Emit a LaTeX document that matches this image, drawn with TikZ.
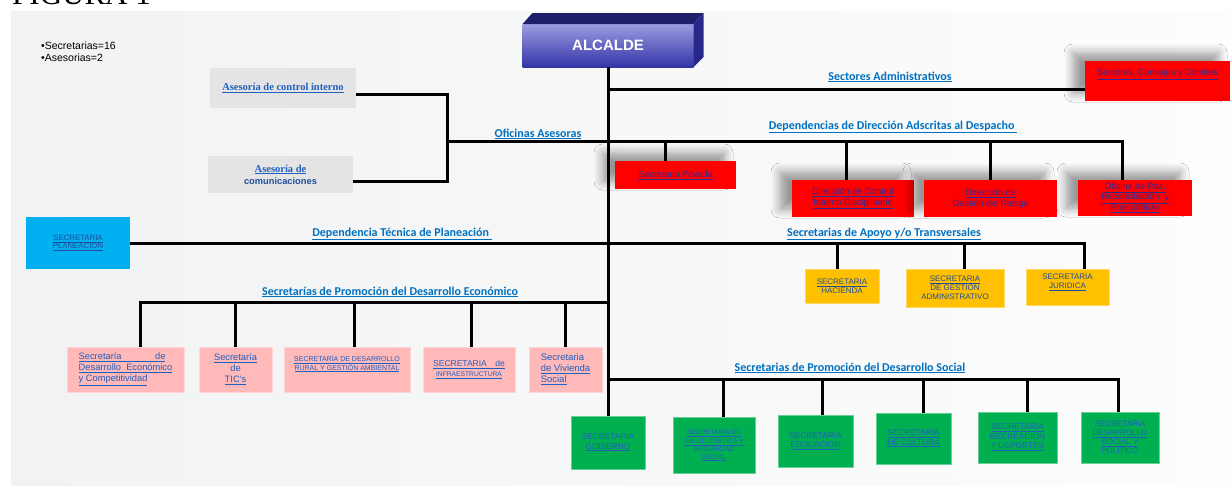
\documentclass[tikz,border=0pt]{standalone}
\usepackage{fontspec}
\setmainfont{Liberation Sans}
\newfontfamily\calfont{Carlito}
\newfontfamily\timesfont{Liberation Serif}
\usepackage{xcolor}
\usepackage{tikz}
\usetikzlibrary{shapes,arrows,positioning,calc,shadows.blur}

\definecolor{linkblue}{HTML}{1F5FC0}
\definecolor{lblblue}{HTML}{0070C0}
\definecolor{navytxt}{HTML}{2E2A8F}
\definecolor{deepblue}{HTML}{1F4E9A}
\definecolor{slideL}{HTML}{F1F2F3}
\definecolor{slideR}{HTML}{FDFDFD}
\definecolor{redfill}{HTML}{FF0000}
\definecolor{pinkfill}{HTML}{FFB9B9}
\definecolor{cyanfill}{HTML}{00B0F0}
\definecolor{yelfill}{HTML}{FFC000}
\definecolor{grnfill}{HTML}{00B050}
\definecolor{grayfill}{HTML}{E4E4E4}
\definecolor{alcA}{HTML}{9C9CE2}
\definecolor{alcB}{HTML}{3434A6}
\definecolor{alctop}{HTML}{1E1E6A}
\definecolor{alcside}{HTML}{28288A}

\newcommand{\lnk}[1]{\underline{#1}}

\tikzset{
  orgbox/.style={inner sep=1pt, outer sep=0pt, align=center, text=linkblue,
    font=\fontsize{8.5}{10}\selectfont},
  redbox/.style={orgbox, fill=redfill, text=navytxt, font=\fontsize{9}{10.5}\selectfont,
    blur shadow={shadow xshift=-12pt, shadow yshift=8pt, shadow opacity=40, shadow blur radius=9pt, shadow blur steps=10}},
  pinkbox/.style={orgbox, fill=pinkfill, draw=pinkfill!60!white, minimum height=45pt},
  greenbox/.style={orgbox, fill=grnfill, draw=grnfill!60!white, font=\fontsize{8.3}{9.5}\selectfont},
  yelbox/.style={orgbox, fill=yelfill, draw=yelfill!60!white, text=deepblue, font=\fontsize{8}{9}\selectfont},
  graybox/.style={orgbox, fill=grayfill},
  alcbox/.style={inner sep=0pt, outer sep=0pt, top color=alcA, bottom color=alcB,
    text=white, font=\bfseries\fontsize{15}{17}\selectfont},
  barlabel/.style={inner sep=1pt, text=lblblue, font=\calfont\bfseries\fontsize{12}{14}\selectfont},
  conn/.style={line width=3pt},
}

\begin{document}
\begin{tikzpicture}[x=1pt,y=-1pt]
\useasboundingbox (0,0) rectangle (1230,485);
\fill[white] (0,0) rectangle (1230,485);
\fill[left color=slideL, right color=slideR] (11,11) rectangle (1230,485);

\node[anchor=base west, inner sep=0pt, font=\timesfont\fontsize{31}{31}\selectfont] (figura) at (12,4.5) {FIGURA 1};
\node[anchor=north west, inner sep=0pt, align=left, font=\fontsize{10.5}{12}\selectfont] (nota) at (41,42) {•Secretarias=16\\•Asesorias=2};

\node[alcbox, minimum width=171pt, minimum height=43pt] (alcalde) at (608,45.5) {ALCALDE};
\fill[alctop] (alcalde.north west) -- ++(10,-11) -- ++(171,0) -- (alcalde.north east) -- cycle;
\fill[alcside] (alcalde.north east) -- ++(10,-11) -- ++(0,44) -- (alcalde.south east) -- cycle;

\node[redbox, minimum width=145pt, minimum height=40pt] (sectores) at (1157.5,81) {\lnk{Sectores, Consejos y Comités}\\[7pt]~};
\node[redbox, minimum width=121pt, minimum height=28pt] (privada) at (675.5,175) {\lnk{Secretaria Privada}};
\node[redbox, minimum width=122pt, minimum height=37pt] (ctrlint) at (853,198.5) {\lnk{Dirección de Control}\\\lnk{Interno Disciplinario}};
\node[redbox, minimum width=133pt, minimum height=37pt] (riesgo) at (990.5,198.5) {\lnk{Dirección de}\\Gestión del Riesgo};
\node[redbox, minimum width=114pt, minimum height=36pt, font=\fontsize{9}{10}\selectfont] (paz) at (1135,198) {\lnk{Oficina de Paz,}\\\lnk{Reconciliación\ \ y}\\\lnk{Posconflicto}};

\node[graybox, minimum width=146pt, minimum height=40pt, font=\timesfont\bfseries\fontsize{10.5}{12}\selectfont] (asesctrl) at (283,88) {\lnk{Asesoría de control interno}};
\node[graybox, minimum width=145pt, minimum height=37pt, font=\timesfont\bfseries\fontsize{10.5}{12}\selectfont] (asescom) at (280.5,174.5) {\lnk{Asesoría de}\\{\normalfont\bfseries\fontsize{9.3}{10}\selectfont\color{deepblue}comunicaciones}};

\node[orgbox, fill=cyanfill, minimum width=104pt, minimum height=52pt, text=deepblue, font=\fontsize{7.8}{8.5}\selectfont] (planeacion) at (78,243) {\lnk{SECRETARIA}\\\lnk{PLANEACION}};

\node[yelbox, minimum width=74pt, minimum height=34pt] (hacienda) at (842,286) {\lnk{SECRETARIA}\\HACIENDA};
\node[yelbox, minimum width=98pt, minimum height=38pt] (gestion) at (955,288) {\lnk{SECRETARIA}\\DE GESTION\\ADMINISTRATIVO};
\node[yelbox, minimum width=83pt, minimum height=36pt] (juridica) at (1067.5,287) {SECRETARIA\\\lnk{JURIDICA}\\[3pt]~};

\node[pinkbox, minimum width=117pt, align=left, font=\fontsize{9.3}{11}\selectfont] (desarrollo) at (125.5,369.5) {\lnk{Secretaría\hspace{3.6em}de}\\\lnk{Desarrollo\ \ Económico}\\\lnk{y Competitividad}};
\node[pinkbox, minimum width=73pt, font=\fontsize{9.3}{11}\selectfont] (tics) at (235.5,369.5) {\lnk{Secretaría}\\de\\\lnk{TIC's}};
\node[pinkbox, minimum width=126pt, font=\fontsize{7}{8.5}\selectfont] (rural) at (347,369.5) {\lnk{SECRETARÍA DE DESARROLLO}\\\lnk{RURAL Y GESTIÓN AMBIENTAL}\\[5pt]~};
\node[pinkbox, minimum width=92pt, font=\fontsize{8.5}{10}\selectfont] (infra) at (469,369.5) {\lnk{SECRETARIA\quad de}\\{\fontsize{6.7}{8}\selectfont\lnk{INFRAESTRUCTURA}}};
\node[pinkbox, minimum width=73pt, align=left, font=\fontsize{9.5}{11}\selectfont] (vivienda) at (565.5,369.5) {Secretaria\\\lnk{de Vivienda}\\\lnk{Social}};

\node[greenbox, minimum width=74pt, minimum height=53pt] (gobierno) at (608,442.5) {SECRETARIA\\\lnk{GOBIERNO}};
\node[greenbox, minimum width=82pt, minimum height=56pt, font=\fontsize{6.8}{7.8}\selectfont] (salud) at (714,445) {\lnk{SECRETARÍA DE}\\\lnk{SALUD PÚBLICA Y}\\SEGURIDAD\\\lnk{SOCIAL}};
\node[greenbox, minimum width=75pt, minimum height=52pt] (educacion) at (815.5,441) {SECRETARIA\\\lnk{EDUCACIÓN}};
\node[greenbox, minimum width=75pt, minimum height=51pt] (cultura) at (913.5,438.5) {\lnk{SECRETARIA}\\\lnk{DE CULTURA}};
\node[greenbox, minimum width=79pt, minimum height=51pt] (recreacion) at (1017.5,437.5) {\lnk{SECRETARIA}\\RECREACION\\\lnk{Y DEPORTES}};
\node[greenbox, minimum width=78pt, minimum height=51pt, font=\fontsize{8}{9}\selectfont] (dsocial) at (1120,437.5) {SECRETARIA\\\lnk{DESARROLLO}\\\lnk{SOCIAL Y}\\POLITICO};

\coordinate (jsect) at (608,89);
\coordinate (jdep) at (608,141);
\coordinate (jases) at (447,141);
\coordinate (jplan) at (608,243);
\coordinate (jeco) at (608,302);
\coordinate (jsoc) at (608,379);

\draw[conn] (alcalde.south) -- (gobierno.north);
\draw[conn] ([yshift=-8pt]sectores.west) -- (jsect);
\draw[conn] ([xshift=-13pt]paz.north) |- (jdep);
\draw[conn] (riesgo.north) |- (jdep);
\draw[conn] ([xshift=-7pt]ctrlint.north) |- (jdep);
\draw[conn] ([xshift=-10.5pt]privada.north) |- (jdep);
\draw[conn] (jdep) -- (jases);
\draw[conn] ([yshift=-6pt]asesctrl.east) -| (jases);
\draw[conn] ([yshift=-6.5pt]asescom.east) -| (jases);
\draw[conn] (planeacion.east) -- (jplan);
\draw[conn] ([xshift=16.5pt]juridica.north) |- (jplan);
\draw[conn] ([xshift=9pt]gestion.north) |- (jplan);
\draw[conn] ([xshift=-5pt]hacienda.north) |- (jplan);
\draw[conn] ([xshift=14.5pt]desarrollo.north) |- (jeco);
\draw[conn] (tics.north) |- (jeco);
\draw[conn] ([xshift=7pt]rural.north) |- (jeco);
\draw[conn] ([xshift=2pt]infra.north) |- (jeco);
\draw[conn] (vivienda.north) |- (jeco);
\draw[conn] ([xshift=-2pt]dsocial.north) |- (jsoc);
\draw[conn] ([xshift=9.5pt]recreacion.north) |- (jsoc);
\draw[conn] ([xshift=9.5pt]cultura.north) |- (jsoc);
\draw[conn] ([xshift=6.5pt]educacion.north) |- (jsoc);
\draw[conn] ([xshift=9pt]salud.north) |- (jsoc);

\node[barlabel] (lsect) at (890,77) {\lnk{Sectores Administrativos}};
\node[barlabel] (ldep) at (893,127) {\lnk{Dependencias de Dirección Adscritas al Despacho\ }};
\node[barlabel] (lases) at (538,134) {\lnk{Oficinas Asesoras}};
\node[barlabel] (lplan) at (402,234) {\lnk{Dependencia Técnica de Planeación\ }};
\node[barlabel] (lapoyo) at (884,234) {\lnk{Secretarias de Apoyo y/o Transversales}};
\node[barlabel] (leco) at (390,292) {\lnk{Secretarías de Promoción del Desarrollo Económico}};
\node[barlabel] (lsoc) at (850,368) {\lnk{Secretarias de Promoción del Desarrollo Social}};
\end{tikzpicture}
\end{document}
